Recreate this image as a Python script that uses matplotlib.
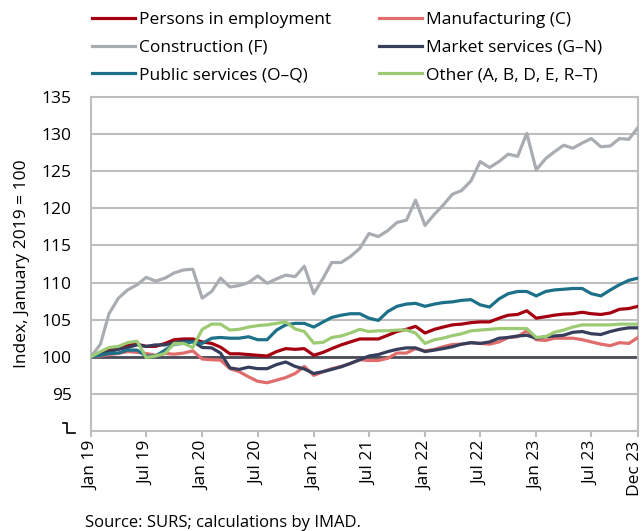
import matplotlib
matplotlib.use("Agg")
import matplotlib.pyplot as plt
import matplotlib.transforms as mtransforms
from matplotlib.lines import Line2D
import numpy as np
import pandas as pd

plt.rcParams['font.family'] = ['Open Sans', 'DejaVu Sans']

months = pd.date_range("2019-01-01", "2023-12-01", freq="MS")

employment = [100, 100.4, 100.9, 101.2, 101.6, 101.7, 101.4, 101.4, 101.8, 102.3,
              102.4, 102.4, 102.0, 101.8, 101.3, 100.4, 100.4, 100.3, 100.2, 100.1,
              100.7, 101.1, 101.0, 101.1, 100.2, 100.6, 101.1, 101.6, 102.0, 102.4,
              102.4, 102.4, 102.9, 103.4, 103.7, 104.1, 103.2, 103.7, 104.0, 104.3,
              104.4, 104.6, 104.7, 104.7, 105.2, 105.6, 105.7, 106.2, 105.2, 105.4,
              105.6, 105.75, 105.8, 106.0, 105.8, 105.7, 105.9, 106.4, 106.5, 106.8]
manufacturing = [100, 100.1, 100.3, 100.45, 100.7, 100.6, 100.45, 100.2, 100.45, 100.35,
                 100.5, 100.8, 99.7, 99.6, 99.55, 98.4, 98.0, 97.3, 96.7, 96.5,
                 96.85, 97.2, 97.75, 98.7, 97.5, 98.0, 98.4, 98.7, 99.1, 99.6,
                 99.5, 99.5, 99.8, 100.5, 100.5, 101.1, 100.8, 101.0, 101.35, 101.65,
                 101.7, 101.9, 101.8, 101.7, 102.0, 102.6, 102.7, 103.5, 102.3, 102.2,
                 102.5, 102.5, 102.5, 102.3, 102.0, 101.7, 101.5, 101.9, 101.8, 102.6]
construction = [100, 101.7, 105.8, 107.9, 109.0, 109.7, 110.7, 110.2, 110.6, 111.3,
                111.7, 111.8, 107.9, 108.8, 110.6, 109.4, 109.6, 110.0, 110.9, 109.9,
                110.5, 111.0, 110.8, 112.2, 108.5, 110.6, 112.7, 112.7, 113.5, 114.6,
                116.6, 116.2, 117.0, 118.1, 118.4, 121.1, 117.7, 119.2, 120.4, 121.9,
                122.4, 123.7, 126.3, 125.5, 126.3, 127.3, 127.0, 130.1, 125.2, 126.7,
                127.6, 128.5, 128.1, 128.8, 129.4, 128.3, 128.4, 129.4, 129.3, 130.9]
market = [100, 100.3, 100.7, 101.0, 101.25, 101.6, 101.4, 101.6, 101.6, 101.9,
          102.1, 102.1, 101.25, 101.2, 100.5, 98.5, 98.3, 98.6, 98.4, 98.4,
          98.95, 99.3, 98.7, 98.35, 97.75, 98.0, 98.3, 98.65, 99.1, 99.6,
          100.1, 100.3, 100.7, 101.0, 101.2, 101.2, 100.7, 100.9, 101.1, 101.35,
          101.7, 101.9, 101.8, 102.0, 102.5, 102.6, 102.8, 102.9, 102.5, 102.7,
          102.8, 102.9, 103.3, 103.4, 103.1, 103.0, 103.4, 103.7, 103.9, 103.9]
public = [100, 100.2, 100.45, 100.5, 100.9, 100.9, 100.1, 100.1, 100.9, 101.7,
          101.8, 102.0, 101.8, 102.5, 102.6, 102.5, 102.5, 102.7, 102.3, 102.3,
          103.6, 104.3, 104.5, 104.5, 104.0, 104.7, 105.3, 105.6, 105.8, 105.8,
          105.2, 104.9, 106.1, 106.8, 107.1, 107.2, 106.8, 107.1, 107.3, 107.4,
          107.6, 107.7, 107.0, 106.7, 107.8, 108.5, 108.8, 108.8, 108.2, 108.8,
          109.0, 109.1, 109.2, 109.2, 108.5, 108.2, 109.0, 109.7, 110.3, 110.6]
other = [100, 100.7, 101.25, 101.4, 101.9, 102.1, 99.9, 100.1, 100.45, 101.8,
         101.8, 101.25, 103.7, 104.4, 104.4, 103.6, 103.7, 104.0, 104.2, 104.3,
         104.5, 104.7, 103.75, 103.4, 101.85, 101.95, 102.6, 102.8, 103.2, 103.7,
         103.4, 103.5, 103.5, 103.6, 103.6, 103.2, 101.8, 102.3, 102.5, 102.85,
         103.1, 103.5, 103.6, 103.7, 103.8, 103.8, 103.8, 103.8, 102.6, 102.7,
         103.3, 103.6, 104.0, 104.3, 104.3, 104.3, 104.3, 104.4, 104.4, 104.4]

labels = ["Persons in employment", "Manufacturing (C)", "Construction (F)",
          "Market services (G\u2013N)", "Public services (O\u2013Q)",
          "Other (A, B, D, E, R\u2013T)"]
colors = ["#a50010", "#e06c6c", "#a9adb2", "#363e5c", "#1c7189", "#9ccb74"]
series = [employment, manufacturing, construction, market, public, other]

tick_dates = list(months[::6]) + [months[-1]]
tick_labels = [d.strftime("%b %y") for d in tick_dates]

fig = plt.figure(figsize=(6.44, 5.31), dpi=100)
ax = fig.add_axes([91/644, 1 - 431/531, (638 - 91)/644, (431 - 97)/531])

grid_c = "#bebebe"
for v in range(95, 136, 5):
    ax.axhline(v, color=grid_c, lw=1.5, zorder=1)
ax.axhline(100, color="#4a4d57", lw=2.0, zorder=2)

handles = {}
order = [2, 1, 3, 4, 5, 0]
for k in order:
    h, = ax.plot(months, series[k], color=colors[k], lw=2.3, zorder=3 + k * 0.1,
                 solid_joinstyle="round")
    handles[k] = h

ax.set_xlim(months[0], months[-1])
ax.set_ylim(90, 135)
ax.set_yticks(range(95, 136, 5))
ax.set_xticks(tick_dates)
ax.set_xticklabels(tick_labels, rotation=90, fontsize=12.5)
ax.tick_params(axis="y", length=0, pad=14, labelsize=12.5)
ax.tick_params(axis="x", length=4, width=1.5, color=grid_c, pad=3)
# nudge the last label so it stays inside the picture
last = ax.get_xticklabels()[-1]
last.set_transform(last.get_transform() +
                   mtransforms.ScaledTranslation(-3 / 100, 0, fig.dpi_scale_trans))
for s in ["left", "right", "bottom", "top"]:
    ax.spines[s].set_color(grid_c)
    ax.spines[s].set_linewidth(1.5)
ax.set_ylabel("Index, January 2019 = 100", fontsize=12.5, labelpad=8)

# axis break mark
brk = Line2D([63 / 644, 67 / 644, 67 / 644, 75 / 644],
             [1 - 423 / 531, 1 - 423 / 531, 1 - 433 / 531, 1 - 433 / 531],
             transform=fig.transFigure, color="black", lw=1.2)
fig.add_artist(brk)

leg_kw = dict(frameon=False, fontsize=12.5, handlelength=2.45, handletextpad=0.25,
              labelspacing=0.65, borderpad=0, borderaxespad=0, loc="upper left")
leg1 = fig.legend([handles[0], handles[2], handles[4]],
                  [labels[0], labels[2], labels[4]],
                  bbox_to_anchor=(92 / 644, 1 - 12 / 531), **leg_kw)
leg2 = fig.legend([handles[1], handles[3], handles[5]],
                  [labels[1], labels[3], labels[5]],
                  bbox_to_anchor=(379 / 644, 1 - 12 / 531), **leg_kw)

fig.text(85 / 644, 1 - 527 / 531, "Source: SURS; calculations by IMAD.", fontsize=12,
         va="baseline")

fig.savefig("out.png", dpi=100)
